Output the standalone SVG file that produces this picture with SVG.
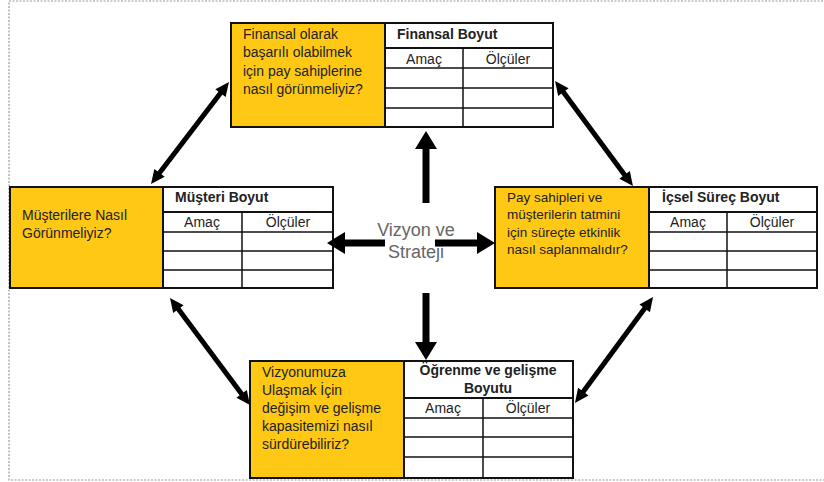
<svg xmlns="http://www.w3.org/2000/svg" width="824" height="482" viewBox="0 0 824 482">
<style>
.frame{fill:none;stroke:#9a9a9a;stroke-width:1.2;stroke-dasharray:2 1.5}
.y{fill:#FFC815;stroke:#111;stroke-width:2}
.w{fill:#fff;stroke:#111;stroke-width:2}
.g{stroke:#111;stroke-width:1.5;fill:none}
.h{stroke:#111;stroke-width:2;fill:none}
text{font-family:"Liberation Sans",Arial,sans-serif;fill:#222}
.q{font-size:14px}
.q2{font-size:13.5px}
.b{font-size:14px;font-weight:bold}
.c{font-size:14px;text-anchor:middle}
.v{font-size:18px;fill:#666;text-anchor:middle}
.a{stroke:#000;stroke-width:5;fill:none}
.ac{stroke:#000;stroke-width:7;fill:none}
</style>
<defs>
<marker id="hd" markerUnits="userSpaceOnUse" markerWidth="14" markerHeight="13" refX="2" refY="6.5" orient="auto-start-reverse" overflow="visible"><path d="M0,0 L14,6.5 L0,13 z" fill="#000"/></marker>
<marker id="hc" markerUnits="userSpaceOnUse" markerWidth="18" markerHeight="22" refX="2" refY="11" orient="auto" overflow="visible"><path d="M0,0 L18,11 L0,22 z" fill="#000"/></marker>
</defs>
<rect class="frame" x="9" y="1" width="830" height="479"/>

<g id="finansal">
<rect class="y" x="231" y="23" width="154" height="104"/>
<rect class="w" x="385" y="23" width="168" height="104"/>
<line class="h" x1="385" y1="48" x2="553" y2="48"/>
<line class="g" x1="385" y1="68" x2="553" y2="68"/>
<line class="g" x1="385" y1="88" x2="553" y2="88"/>
<line class="g" x1="385" y1="108" x2="553" y2="108"/>
<line class="g" x1="463" y1="48" x2="463" y2="127"/>
<text class="q" x="243" y="39">Finansal olarak</text>
<text class="q" x="243" y="57">başarılı olabilmek</text>
<text class="q" x="243" y="76">için pay sahiplerine</text>
<text class="q" x="243" y="94">nasıl görünmeliyiz?</text>
<text class="b" x="397" y="39">Finansal Boyut</text>
<text class="c" x="424" y="64">Amaç</text>
<text class="c" x="508" y="64">Ölçüler</text>
</g>

<g id="musteri">
<rect class="y" x="10" y="187" width="153" height="101"/>
<rect class="w" x="163" y="187" width="170" height="101"/>
<line class="h" x1="163" y1="212" x2="333" y2="212"/>
<line class="g" x1="163" y1="232" x2="333" y2="232"/>
<line class="g" x1="163" y1="251" x2="333" y2="251"/>
<line class="g" x1="163" y1="270" x2="333" y2="270"/>
<line class="g" x1="242" y1="212" x2="242" y2="288"/>
<text class="q" x="22" y="220">Müşterilere Nasıl</text>
<text class="q" x="22" y="238">Görünmeliyiz?</text>
<text class="b" x="175" y="202">Müşteri Boyut</text>
<text class="c" x="202" y="227">Amaç</text>
<text class="c" x="288" y="227">Ölçüler</text>
</g>

<g id="icsel">
<rect class="y" x="495" y="187" width="154" height="101"/>
<rect class="w" x="649" y="187" width="168" height="101"/>
<line class="h" x1="649" y1="212" x2="817" y2="212"/>
<line class="g" x1="649" y1="232" x2="817" y2="232"/>
<line class="g" x1="649" y1="251" x2="817" y2="251"/>
<line class="g" x1="649" y1="270" x2="817" y2="270"/>
<line class="g" x1="727" y1="212" x2="727" y2="288"/>
<text class="q2" x="507" y="202">Pay sahipleri ve</text>
<text class="q2" x="507" y="219">müşterilerin tatmini</text>
<text class="q2" x="507" y="237">için süreçte etkinlik</text>
<text class="q2" x="507" y="254">nasıl saplanmalıdır?</text>
<text class="b" x="662" y="202">İçsel Süreç Boyut</text>
<text class="c" x="688" y="227">Amaç</text>
<text class="c" x="772" y="227">Ölçüler</text>
</g>

<g id="ogrenme">
<rect class="y" x="250" y="361" width="154" height="117"/>
<rect class="w" x="404" y="361" width="169" height="117"/>
<line class="h" x1="404" y1="398" x2="573" y2="398"/>
<line class="g" x1="404" y1="418" x2="573" y2="418"/>
<line class="g" x1="404" y1="437" x2="573" y2="437"/>
<line class="g" x1="404" y1="457" x2="573" y2="457"/>
<line class="g" x1="483" y1="398" x2="483" y2="478"/>
<text class="q" x="262" y="377">Vizyonumuza</text>
<text class="q" x="262" y="395">Ulaşmak İçin</text>
<text class="q" x="262" y="413">değişim ve gelişme</text>
<text class="q" x="262" y="431">kapasitemizi nasıl</text>
<text class="q" x="262" y="449">sürdürebiliriz?</text>
<text class="b" x="488" y="375" text-anchor="middle">Öğrenme ve gelişme</text>
<text class="b" x="488" y="393" text-anchor="middle">Boyutu</text>
<text class="c" x="443" y="413">Amaç</text>
<text class="c" x="528" y="413">Ölçüler</text>
</g>

<g id="merkez">
<text class="v" x="416" y="236">Vizyon ve</text>
<text class="v" x="416" y="258">Strateji</text>
</g>

<g id="connectors">
<line class="ac" x1="426" y1="203" x2="426" y2="147" marker-end="url(#hc)"/>
<line class="ac" x1="385" y1="243" x2="343" y2="243" marker-end="url(#hc)"/>
<line class="ac" x1="435" y1="243" x2="479" y2="243" marker-end="url(#hc)"/>
<line class="ac" x1="426" y1="293" x2="426" y2="344" marker-end="url(#hc)"/>
<line class="a" x1="221.7" y1="91.5" x2="158.3" y2="174.5" marker-start="url(#hd)" marker-end="url(#hd)"/>
<line class="a" x1="562.2" y1="90.6" x2="625.8" y2="176.4" marker-start="url(#hd)" marker-end="url(#hd)"/>
<line class="a" x1="177.2" y1="307.6" x2="242.8" y2="395.4" marker-start="url(#hd)" marker-end="url(#hd)"/>
<line class="a" x1="645.9" y1="306.7" x2="582.1" y2="393.3" marker-start="url(#hd)" marker-end="url(#hd)"/>
</g>
</svg>
